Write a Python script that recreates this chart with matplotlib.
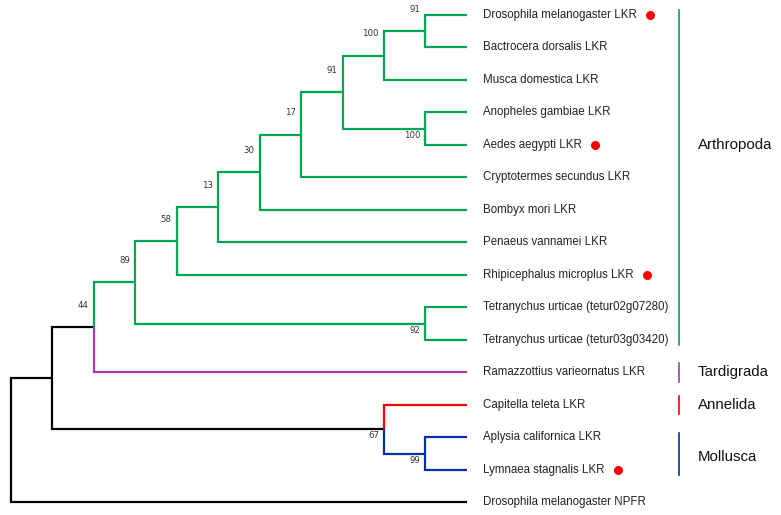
import matplotlib
matplotlib.use("Agg")
import matplotlib.pyplot as plt

# leaves, top to bottom
leaf_names = [
    "Drosophila melanogaster LKR",
    "Bactrocera dorsalis LKR",
    "Musca domestica LKR",
    "Anopheles gambiae LKR",
    "Aedes aegypti LKR",
    "Cryptotermes secundus LKR",
    "Bombyx mori LKR",
    "Penaeus vannamei LKR",
    "Rhipicephalus microplus LKR",
    "Tetranychus urticae (tetur02g07280)",
    "Tetranychus urticae (tetur03g03420)",
    "Ramazzottius varieornatus LKR",
    "Capitella teleta LKR",
    "Aplysia californica LKR",
    "Lymnaea stagnalis LKR",
    "Drosophila melanogaster NPFR",
]
leaf_groups = ["Arthropoda"] * 11 + ["Tardigrada", "Annelida", "Mollusca", "Mollusca", "Outgroup"]
marked_leaves = [0, 4, 8, 14]

# internal nodes (topology only tree, level = column)
node_ids = ["root", "n1", "n44", "n89", "n58", "n13", "n30", "n17", "n91",
            "n100", "nDm", "nAg", "nTu", "n67", "nMo"]
node_children = [["n1", 15], ["n44", "n67"], ["n89", 11], ["n58", "nTu"],
                 ["n13", 8], ["n30", 7], ["n17", 6], ["n91", 5],
                 ["n100", "nAg"], ["nDm", 2], [0, 1], [3, 4], [9, 10],
                 [12, "nMo"], [13, 14]]
node_levels = [0, 1, 2, 3, 4, 5, 6, 7, 8, 9, 10, 10, 10, 9, 10]
node_support = [None, None, 44, 89, 58, 13, 30, 17, 91, 100, 91, 100, 92, 67, 99]
support_above = [True, True, True, True, True, True, True, True, True,
                 True, True, False, False, False, False]
node_groups = ["Outgroup", "Outgroup", "Outgroup"] + ["Arthropoda"] * 10 + ["Outgroup", "Mollusca"]

clade_names = ["Arthropoda", "Tardigrada", "Annelida", "Mollusca"]
clade_rows = [(0, 10), (11, 11), (12, 12), (13, 14)]
clade_label_rows = [4.0, 11.0, 12.0, 13.6]

colors = {"Arthropoda": "#00a651", "Tardigrada": "#a040a8", "Annelida": "#ff0000",
          "Mollusca": "#0033a0", "Outgroup": "#000000"}
leaf_level = 11

node_index = {n: i for i, n in enumerate(node_ids)}

fig = plt.figure(figsize=(7.81, 5.15), dpi=100)
ax = fig.add_axes([0, 0, 1, 1])
ax.set_xlim(-0.265, 18.58)
ax.set_ylim(15.385, -0.4615)
ax.axis("off")


def node_y(c):
    if isinstance(c, int):
        return float(c)
    i = node_index[c]
    ys = [node_y(k) for k in node_children[i]]
    return (ys[0] + ys[-1]) / 2


def info(c):
    if isinstance(c, int):
        return leaf_level, colors[leaf_groups[c]]
    i = node_index[c]
    return node_levels[i], colors[node_groups[i]]


for i, nid in enumerate(node_ids):
    x = node_levels[i]
    y = node_y(nid)
    for c in node_children[i]:
        cx, col = info(c)
        cy = node_y(c)
        ax.plot([x, x, cx], [y, cy, cy], color=col, lw=1.6,
                solid_joinstyle="miter", solid_capstyle="butt")
    if node_support[i] is not None:
        dy = -0.68 if support_above[i] else 0.2
        ax.text(x - 0.12, y + dy, str(node_support[i]), ha="right", va="center",
                fontsize=6.2, color="#333333", family="DejaVu Sans")

texts = []
for j, name in enumerate(leaf_names):
    t = ax.text(leaf_level + 0.39, j, name, ha="left", va="center",
                fontsize=8.3, family="Liberation Sans", color="#222222")
    texts.append(t)

for k, name in enumerate(clade_names):
    a, b = clade_rows[k]
    pad = 0.28 if a == b else 0.15
    ax.plot([16.12, 16.12], [a - pad, b + pad], color=colors[name], lw=1.2)
    ax.text(16.58, clade_label_rows[k], name, ha="left", va="center",
            fontsize=10.8, family="Liberation Sans", color="#111111")

fig.canvas.draw()
r = fig.canvas.get_renderer()
inv = ax.transData.inverted()
for j in marked_leaves:
    bb = texts[j].get_window_extent(renderer=r)
    xd, _ = inv.transform((bb.x1 + 13, 0))
    ax.plot(xd, j, "o", color="#ff0000", markersize=6.5, markeredgewidth=0)

fig.savefig("out.png", dpi=100)
